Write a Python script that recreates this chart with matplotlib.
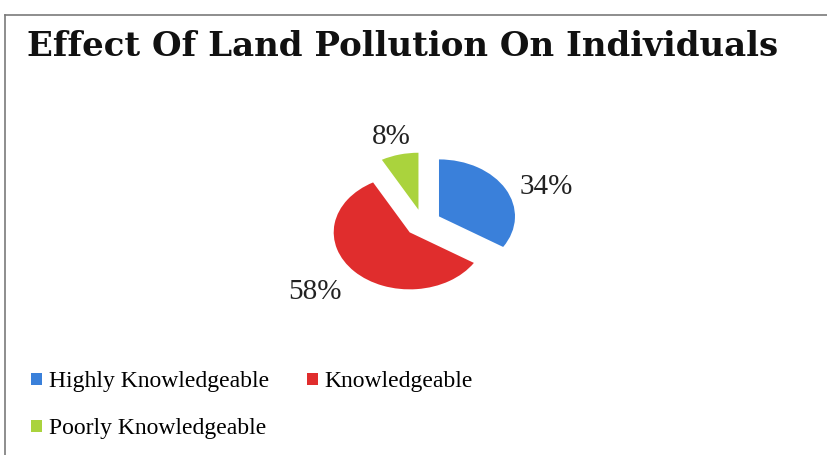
import numpy as np
import matplotlib
matplotlib.use('Agg')
import matplotlib.pyplot as plt
from matplotlib.patches import Patch
from matplotlib.lines import Line2D

plt.rcParams['font.family'] = ['Liberation Serif', 'DejaVu Serif']

# data
categories = ['Highly Knowledgeable', 'Knowledgeable', 'Poorly Knowledgeable']
shares = [34, 58, 8]
colors = ['#3a80da', '#e02d2d', '#aad33d']

# label placement tweaks (distance from wedge centre, extra turn in degrees)
label_dist = [1.5, 1.63, 1.33]
label_turn = [-9, -3, 1]

W, H = 828, 455
fig = plt.figure(figsize=(W / 100, H / 100), dpi=100)
fig.patch.set_facecolor('white')

# frame lines (top and left visible, the rest cut off)
fig.add_artist(Line2D([5 / W, 1], [1 - 15 / H, 1 - 15 / H], color='#7a7a7a', lw=1.2))
fig.add_artist(Line2D([5 / W, 5 / W], [0, 1 - 15 / H], color='#7a7a7a', lw=1.2))

fig.text(27 / W, 1 - 47 / H, 'Effect Of Land Pollution On Individuals',
         family='DejaVu Serif', fontsize=24.5, fontweight='bold',
         va='center', ha='left', color='#111111')

# pie axes, squashed vertically like the original
ax = fig.add_axes([309 / W, 146.5 / H, 228 / W, 171 / H])
wedges, texts, autotexts = ax.pie(shares, colors=colors, startangle=90, counterclock=False,
                                  explode=[0.24, 0.24, 0.24],
                                  autopct='%d%%', pctdistance=1.5,
                                  textprops={'fontsize': 21, 'color': '#222222'})
for w, t, d, turn in zip(wedges, autotexts, label_dist, label_turn):
    ang = np.deg2rad((w.theta1 + w.theta2) / 2 + turn)
    cx, cy = w.center
    t.set_position((cx + d * np.cos(ang), cy + d * np.sin(ang)))
ax.set_aspect('auto')
ax.set_xlim(-1.5, 1.5)
ax.set_ylim(-1.5, 1.5)
ax.axis('off')

# row-major legend order: Highly, Knowledgeable / Poorly
order = [0, 2, 1]
handles = [Patch(facecolor=colors[i], edgecolor='none') for i in order]
labels = [categories[i] for i in order]
fig.legend(handles, labels, loc='upper left', bbox_to_anchor=(22 / W, 1 - 362 / H),
           ncol=2, frameon=False, fontsize=17, handlelength=0.45, handleheight=0.45,
           handletextpad=0.3, columnspacing=1.6, labelspacing=1.1, borderaxespad=0)

fig.savefig('out.png', dpi=100)
